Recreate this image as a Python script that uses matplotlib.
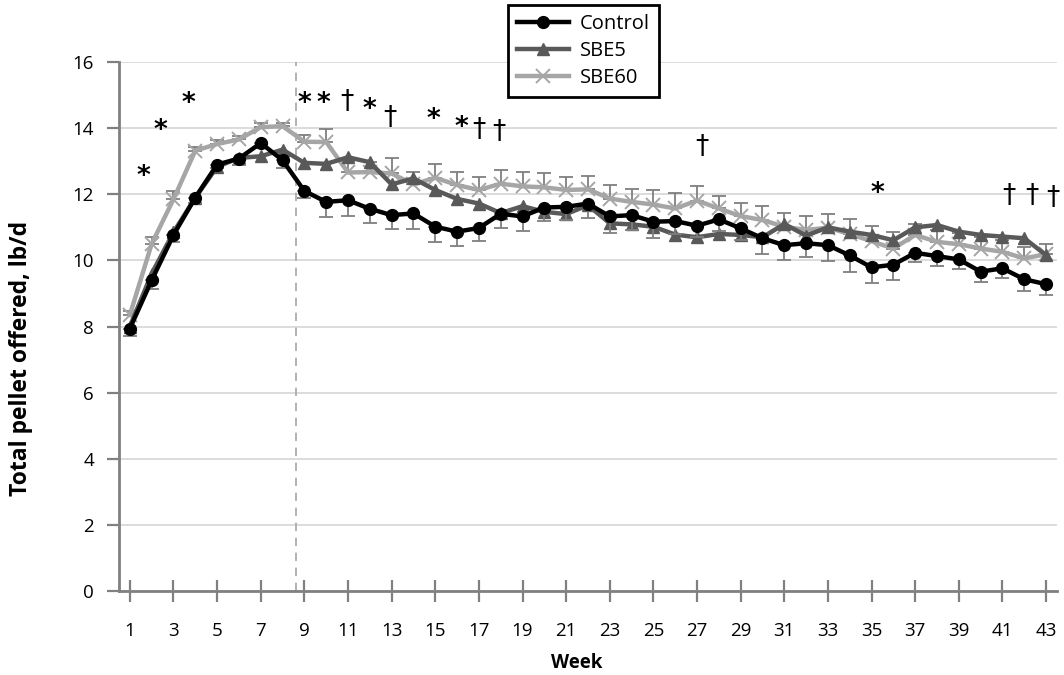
import numpy as np
import matplotlib
matplotlib.use("Agg")
import matplotlib.pyplot as plt

### Data ###
weeks = np.arange(1, 44)
tick_weeks = np.arange(1, 44, 2)

control = [7.94, 9.40, 10.77, 11.90, 12.90, 13.08, 13.55, 13.03, 12.10, 11.77,
           11.82, 11.56, 11.37, 11.42, 11.02, 10.87, 10.98, 11.41, 11.33, 11.60,
           11.62, 11.72, 11.33, 11.37, 11.17, 11.19, 11.05, 11.24, 10.97, 10.67,
           10.46, 10.52, 10.46, 10.15, 9.79, 9.87, 10.23, 10.13, 10.03, 9.66,
           9.76, 9.43, 9.28]
control_err = [0.23, 0.25, 0.20, 0.15, 0.12, 0.20, 0.15, 0.22, 0.22, 0.45,
               0.47, 0.43, 0.42, 0.47, 0.45, 0.43, 0.40, 0.43, 0.43, 0.40,
               0.40, 0.45, 0.50, 0.45, 0.48, 0.40, 0.35, 0.35, 0.35, 0.48,
               0.46, 0.43, 0.49, 0.50, 0.48, 0.47, 0.27, 0.30, 0.30, 0.30,
               0.30, 0.37, 0.33]

sbe5 = [8.00, 9.60, 10.85, 11.90, 12.83, 13.10, 13.15, 13.35, 12.95, 12.92,
        13.12, 12.97, 12.30, 12.48, 12.13, 11.86, 11.72, 11.43, 11.64, 11.47,
        11.40, 11.67, 11.12, 11.09, 11.02, 10.78, 10.70, 10.80, 10.77, 10.70,
        11.10, 10.75, 11.00, 10.87, 10.77, 10.61, 11.00, 11.07, 10.87, 10.77,
        10.72, 10.67, 10.16]

sbe60 = [8.35, 10.50, 11.85, 13.32, 13.52, 13.66, 14.03, 14.06, 13.59, 13.58,
         12.66, 12.67, 12.63, 12.30, 12.50, 12.28, 12.13, 12.32, 12.24, 12.21,
         12.13, 12.15, 11.87, 11.77, 11.69, 11.57, 11.81, 11.57, 11.34, 11.22,
         11.02, 10.92, 10.99, 10.80, 10.58, 10.36, 10.77, 10.56, 10.49, 10.36,
         10.26, 10.06, 10.19]
sbe60_err = [0.12, 0.22, 0.25, 0.12, 0.12, 0.10, 0.12, 0.10, 0.20, 0.40,
             0.35, 0.30, 0.47, 0.37, 0.42, 0.39, 0.40, 0.40, 0.43, 0.42,
             0.40, 0.40, 0.42, 0.40, 0.43, 0.47, 0.43, 0.37, 0.41, 0.43,
             0.42, 0.42, 0.40, 0.45, 0.47, 0.50, 0.32, 0.35, 0.35, 0.35,
             0.35, 0.35, 0.30]

# significance marks (symbol, week, y)
marks = [("*", 1.6, 12.67), ("*", 2.4, 14.06), ("*", 3.7, 14.88),
         ("*", 9.0, 14.87), ("*", 9.87, 14.87), ("†", 10.94, 14.80),
         ("*", 11.98, 14.70), ("†", 12.93, 14.30), ("*", 14.9, 14.40),
         ("*", 16.2, 14.15), ("†", 17.0, 13.94), ("†", 17.9, 13.89),
         ("†", 27.2, 13.42), ("*", 35.25, 12.15), ("†", 41.3, 11.94),
         ("†", 42.36, 11.94), ("†", 43.3, 11.88)]
break_week = 8.6
##################

plt.rcParams['font.family'] = ['Open Sans', 'DejaVu Sans']

fig = plt.figure(figsize=(10.64, 6.75), dpi=100)
ax = fig.add_axes([0.1118, 0.1244, 0.8816, 0.7837])

err_col = "#7f7f7f"

# SBE60 (bottom)
ax.errorbar(weeks, sbe60, yerr=[np.zeros(len(weeks)), sbe60_err], fmt="none",
            ecolor=err_col, elinewidth=1.3, capsize=5, capthick=1.3, zorder=2)
ax.plot(weeks, sbe60, color="#a6a6a6", lw=3.2, marker="x", ms=10, mew=1.4,
        mec="#a6a6a6", label="SBE60", zorder=3)

# SBE5
ax.plot(weeks, sbe5, color="#595959", lw=3.2, marker="^", ms=8.5,
        mec="#595959", mfc="#595959", label="SBE5", zorder=4)

# Control (top)
ax.errorbar(weeks, control, yerr=[control_err, np.zeros(len(weeks))], fmt="none",
            ecolor=err_col, elinewidth=1.3, capsize=5, capthick=1.3, zorder=4.5)
ax.plot(weeks, control, color="black", lw=3.2, marker="o", ms=8.5,
        label="Control", zorder=5)

ax.axvline(break_week, color="#a6a6a6", ls=(0, (5, 4)), lw=1.2, zorder=1)

for sym, x, y in marks:
    if sym == "*":
        ax.text(x, y - 0.15, sym, ha="center", va="center", fontsize=19,
                fontweight="bold", family=["DejaVu Sans"], color="black", zorder=6)
    else:
        ax.text(x, y, sym, ha="center", va="center", fontsize=19,
                family=["DejaVu Sans"], color="black", zorder=6)

ax.set_xlim(0.5, 43.5)
ax.set_ylim(0, 16)
ax.set_yticks(np.arange(0, 17, 2))
ax.set_xticks(tick_weeks)
ax.set_xticklabels([str(w) for w in tick_weeks])

ax.grid(axis="y", color="#d9d9d9", lw=1.3, zorder=0)
ax.set_axisbelow(True)
for s in ["top", "right"]:
    ax.spines[s].set_visible(False)
for s in ["left", "bottom"]:
    ax.spines[s].set_color("#808080")
    ax.spines[s].set_linewidth(2)

ax.tick_params(axis="x", direction="inout", length=16, width=1.6, color="#808080",
               labelsize=13.5, pad=14)
ax.tick_params(axis="y", direction="out", length=9, width=1.6, color="#808080",
               labelsize=13.5, pad=9)

ax.set_xlabel("Week", fontsize=13.5, fontweight="bold")
ax.set_ylabel("Total pellet offered, lb/d", fontsize=16.5, fontweight="bold")
ax.xaxis.set_label_coords(0.488, -0.117)
ax.yaxis.set_label_coords(-0.092, 0.44)

handles, labels = ax.get_legend_handles_labels()
order = [2, 1, 0]
leg = fig.legend([handles[i] for i in order], [labels[i] for i in order],
                 loc="upper left", bbox_to_anchor=(0.4774, 0.9926), fontsize=14.5,
                 frameon=True, fancybox=False, framealpha=1, edgecolor="black",
                 borderpad=0.45, handlelength=2.6, labelspacing=0.35,
                 handletextpad=0.5, borderaxespad=0)
leg.get_frame().set_linewidth(2)
leg.set_zorder(10)

fig.savefig("out.png", dpi=100)
